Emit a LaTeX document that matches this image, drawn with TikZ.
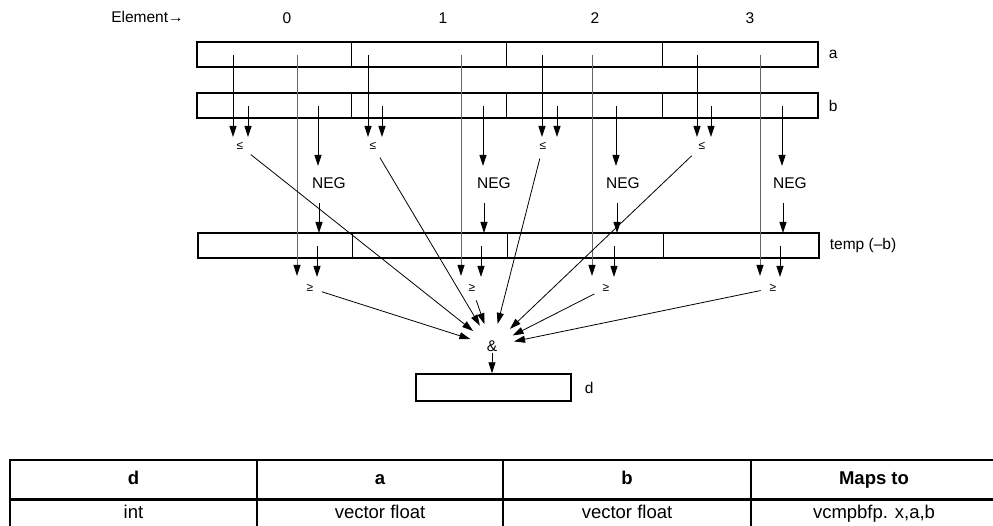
\documentclass[tikz,border=0pt]{standalone}
\usepackage{fontspec}
\setmainfont{Liberation Sans}
\usetikzlibrary{arrows.meta,calc}
\begin{document}
\begin{tikzpicture}[x=1pt,y=-1pt,
  every node/.style={font=\fontsize{15.5}{18}\selectfont, inner sep=1pt},
  reg/.style={draw, line width=1.4pt, minimum width=621pt, minimum height=25pt, inner sep=0pt},
  dreg/.style={draw, line width=1.4pt, minimum width=155pt, minimum height=27pt, inner sep=0pt},
  divider/.style={line width=0.9pt},
  arr/.style={-{Triangle[length=11pt,width=7pt]}, line width=0.8pt},
  gline/.style={-{Triangle[length=11pt,width=7pt,color=black]}, line width=0.9pt, draw=black!60},
  conv/.style={arr, shorten <=8pt, shorten >=16pt},
  cmp/.style={font=\fontsize{12}{14}\selectfont, inner sep=1pt},
  th/.style={draw, line width=1.3pt, minimum height=39pt, font=\fontsize{18.5}{21}\selectfont\bfseries, inner sep=0pt, text height=14pt, text depth=4pt},
  td/.style={draw, line width=1.3pt, minimum height=38pt, font=\fontsize{18.5}{21}\selectfont, inner sep=0pt, text height=8pt, text depth=7pt},
]
\useasboundingbox (0,0) rectangle (993,526);

% header labels
\node (elem) at (147.5,17) {Element→};
\node (e0) at (287,18) {0};
\node (e1) at (443,18) {1};
\node (e2) at (595,18) {2};
\node (e3) at (750,18) {3};

% registers
\node[reg] (a) at (507.5,54.5) {};
\node[reg] (b) at (507.5,105.5) {};
\node[reg] (temp) at (508.5,245.5) {};
\foreach \r in {a,b,temp} {
  \foreach \k in {1,2,3} {
    \draw[divider] ($(\r.north west)+(155.25*\k,0)$) -- ($(\r.south west)+(155.25*\k,0)$);
  }
}
\node[anchor=west] (la) at ([xshift=9pt]a.east) {a};
\node[anchor=west] (lb) at ([xshift=9pt]b.east) {b};
\node[anchor=west] (lt) at ([xshift=9pt]temp.east) {temp (–b)};

% per element
\foreach \i/\xa/\xb/\xg/\xn/\xm/\xt/\xl/\xN/\xe in
  {0/233/248/297/318/319/317/240/329/310,
   1/368/382/461/483/484/481/373/494/472,
   2/542/557/592/616/617/614/543/623/606,
   3/697/711/760/782/783/780/702/790/773} {
  \node[cmp] (le\i) at (\xl,146) {≤};
  \node (neg\i) at (\xN,183) {NEG};
  \node[cmp] (ge\i) at (\xe,288) {≥};
  \coordinate (pa\i) at (\xa,55);  \coordinate (qa\i) at (\xa,137);
  \coordinate (pb\i) at (\xb,106); \coordinate (qb\i) at (\xb,137);
  \coordinate (pg\i) at (\xg,55);  \coordinate (qg\i) at (\xg,276);
  \coordinate (pn\i) at (\xn,106); \coordinate (qn\i) at (\xn,166);
  \coordinate (pm\i) at (\xm,203); \coordinate (qm\i) at (\xm,233);
  \coordinate (pt\i) at (\xt,246); \coordinate (qt\i) at (\xt,277);
  \draw[arr] (pa\i) -- (qa\i);
  \draw[arr] (pb\i) -- (qb\i);
  \draw[gline] (pg\i) -- (qg\i);
  \draw[arr] (pn\i) -- (qn\i);
  \draw[arr] (pm\i) -- (qm\i);
  \draw[arr] (pt\i) -- (qt\i);
}

% AND and result
\node (amp) at (492,346) {\&};
\foreach \i in {0,1,2,3} {
  \draw[conv] (le\i) -- (amp);
  \draw[conv] (ge\i) -- (amp);
}
\node[dreg] (d) at (493.5,387.5) {};
\node[anchor=west] (ld) at ([xshift=12pt]d.east) {d};
\draw[arr] (amp.south) -- (amp.south |- d.north);

% table
\node[th, minimum width=247pt] (hd) at (133.5,479.5) {d};
\node[th, minimum width=246pt] (ha) at (380,479.5) {a};
\node[th, minimum width=248pt] (hb) at (627,479.5) {b};
\node[th, minimum width=246pt] (hm) at (874,479.5) {Maps to};
\node[td, minimum width=247pt] (bd) at (133.5,518) {int};
\node[td, minimum width=246pt] (ba) at (380,518) {vector float};
\node[td, minimum width=248pt] (bb) at (627,518) {vector float};
\node[td, minimum width=246pt] (bm) at (874,518) {vcmpbfp. x,a,b};
\draw[line width=2pt] (hd.south west) -- (hm.south east);
\end{tikzpicture}
\end{document}
